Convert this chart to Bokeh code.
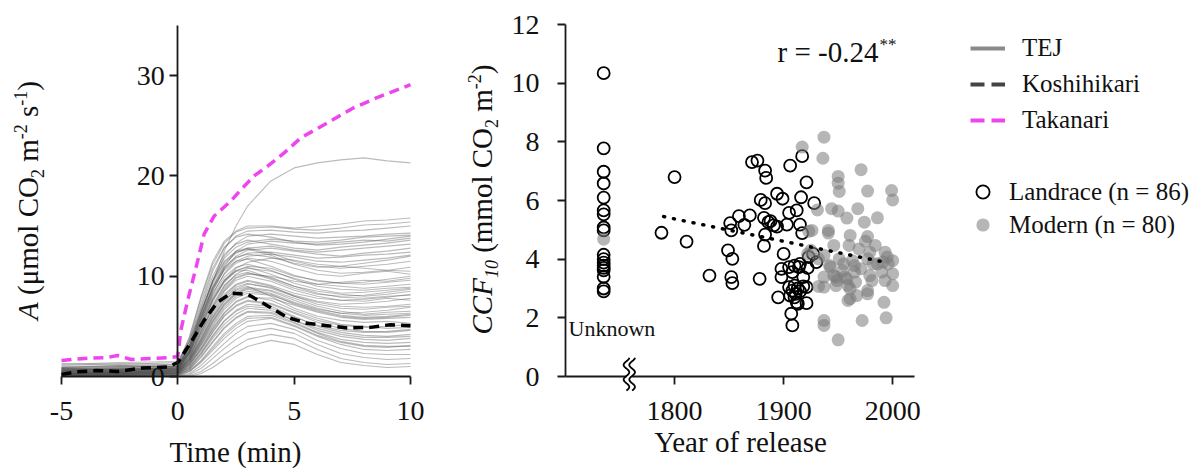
import numpy as np
from math import pi
from bokeh.plotting import figure
from bokeh.layouts import row
from bokeh.models import (Range1d, FixedTicker, Label, Legend, LegendItem,
                          CustomJSTickFormatter)
from bokeh.embed import file_html
from bokeh.resources import INLINE

FONT = "Liberation Serif"

# ---------------- Panel A data: photosynthesis induction ----------------
time_grid = [-5, -2.5, 0, 0.5, 1, 1.5, 2, 2.5, 3, 4, 5, 6, 7, 8, 9, 10]
tej_curves = [
    [1.2, 1.4, 1.5, 3.5, 6.5, 9.5, 12.5, 15.0, 17.0, 19.5, 20.8, 21.3, 21.6, 21.8, 21.5, 21.3],
    [1.0, 1.1, 1.2, 4.0, 8.0, 11.5, 13.5, 14.5, 15.0, 15.0, 14.8, 15.0, 15.2, 15.5, 15.6, 15.8],
    [0.9, 1.0, 1.0, 3.5, 7.0, 10.5, 12.8, 14.0, 14.5, 14.6, 14.4, 14.3, 14.5, 14.6, 14.8, 15.0],
    [0.8, 0.9, 1.0, 3.0, 6.2, 9.5, 12.0, 13.3, 14.0, 14.2, 14.0, 13.8, 13.9, 14.0, 14.2, 14.3],
    [0.7, 0.8, 0.9, 2.8, 5.8, 8.8, 11.0, 12.5, 13.2, 13.5, 13.3, 13.2, 13.4, 13.6, 13.5, 13.8],
    [0.6, 0.7, 0.8, 2.5, 5.5, 8.5, 10.8, 12.0, 12.6, 12.8, 12.5, 12.2, 12.0, 12.3, 12.5, 12.8],
    [0.8, 0.7, 0.9, 3.0, 6.5, 9.5, 11.5, 12.5, 12.8, 12.3, 11.5, 11.0, 10.8, 11.0, 11.2, 11.5],
    [0.5, 0.6, 0.8, 2.6, 5.6, 8.3, 10.2, 11.3, 11.8, 11.5, 10.8, 10.2, 10.0, 10.3, 10.5, 10.2],
    [0.6, 0.5, 0.7, 2.2, 4.8, 7.5, 9.5, 10.8, 11.4, 11.8, 11.6, 11.2, 11.0, 10.8, 10.6, 10.5],
    [0.4, 0.5, 0.6, 2.0, 4.5, 7.0, 9.0, 10.2, 10.8, 10.5, 9.8, 9.2, 9.0, 8.8, 9.0, 9.2],
    [0.5, 0.4, 0.7, 2.4, 5.2, 7.8, 9.6, 10.5, 10.6, 9.8, 9.0, 8.5, 8.2, 8.0, 8.2, 8.5],
    [0.3, 0.4, 0.5, 1.8, 4.2, 6.5, 8.5, 9.6, 10.0, 9.5, 8.6, 8.0, 7.6, 7.5, 7.8, 7.6],
    [0.4, 0.3, 0.6, 1.9, 4.4, 6.8, 8.6, 9.8, 10.2, 10.0, 9.5, 9.2, 9.4, 9.6, 9.5, 9.8],
    [0.2, 0.4, 0.5, 1.6, 3.8, 6.0, 7.8, 8.9, 9.3, 8.8, 8.0, 7.4, 7.0, 6.9, 7.0, 7.2],
    [0.3, 0.2, 0.4, 1.5, 3.5, 5.6, 7.3, 8.4, 8.9, 8.6, 7.8, 7.0, 6.5, 6.2, 6.4, 6.5],
    [0.2, 0.3, 0.4, 1.3, 3.2, 5.2, 6.9, 8.0, 8.5, 8.2, 7.2, 6.5, 6.0, 5.8, 5.9, 6.1],
    [0.5, 0.4, 0.6, 1.7, 3.6, 5.8, 7.5, 8.6, 9.0, 8.0, 6.8, 6.0, 5.6, 5.4, 5.5, 5.3],
    [0.3, 0.2, 0.3, 1.2, 2.9, 4.8, 6.4, 7.5, 8.0, 7.6, 6.6, 5.8, 5.2, 5.0, 4.8, 4.9],
    [0.2, 0.3, 0.3, 1.0, 2.6, 4.4, 6.0, 7.0, 7.5, 7.2, 6.3, 5.4, 4.8, 4.5, 4.4, 4.6],
    [0.1, 0.2, 0.3, 0.9, 2.4, 4.1, 5.6, 6.6, 7.2, 7.0, 6.0, 5.0, 4.4, 4.1, 4.0, 4.2],
    [0.2, 0.1, 0.2, 0.8, 2.2, 3.8, 5.2, 6.2, 6.8, 6.6, 5.6, 4.6, 4.0, 3.7, 3.6, 3.8],
    [0.1, 0.2, 0.2, 0.7, 1.9, 3.4, 4.8, 5.8, 6.4, 6.3, 5.4, 4.4, 3.7, 3.4, 3.3, 3.4],
    [0.1, 0.1, 0.2, 0.6, 1.6, 3.0, 4.3, 5.3, 6.0, 6.1, 5.3, 4.3, 3.5, 3.1, 3.0, 3.0],
    [0.0, 0.1, 0.1, 0.5, 1.4, 2.6, 3.8, 4.8, 5.5, 5.8, 5.0, 4.0, 3.2, 2.7, 2.6, 2.7],
    [0.0, 0.0, 0.1, 0.3, 1.1, 2.2, 3.3, 4.3, 5.0, 5.3, 4.7, 3.6, 2.8, 2.3, 2.2, 2.2],
    [0.0, 0.1, 0.0, 0.2, 0.8, 1.8, 2.8, 3.7, 4.4, 4.8, 4.3, 3.2, 2.3, 1.9, 1.7, 1.8],
    [0.0, 0.0, 0.0, 0.1, 0.5, 1.3, 2.2, 3.0, 3.7, 4.2, 3.8, 2.7, 1.8, 1.4, 1.2, 1.3],
    [0.0, 0.0, 0.0, 0.0, 0.3, 0.9, 1.7, 2.4, 3.0, 3.6, 3.2, 2.2, 1.4, 1.1, 0.9, 1.0],
    [0.6, 0.5, 0.7, 2.3, 5.0, 7.6, 9.4, 10.5, 11.0, 10.8, 10.0, 9.6, 9.3, 9.2, 9.4, 9.6],
    [0.7, 0.6, 0.8, 2.7, 6.0, 9.0, 11.2, 12.3, 12.8, 13.0, 12.6, 12.4, 12.6, 12.8, 13.0, 13.2],
    [0.9, 1.0, 1.1, 3.2, 6.8, 10.0, 12.2, 13.2, 13.6, 13.2, 12.8, 12.6, 12.9, 13.1, 13.3, 13.6],
    [0.7, 0.8, 0.9, 2.9, 6.0, 8.9, 10.9, 11.9, 12.2, 11.9, 11.3, 10.9, 11.0, 11.3, 11.6, 12.0],
    [0.5, 0.6, 0.7, 2.4, 5.3, 8.0, 9.9, 10.9, 11.2, 10.6, 9.7, 9.0, 8.7, 8.6, 8.8, 8.9],
    [0.4, 0.5, 0.6, 2.1, 4.7, 7.2, 9.1, 10.1, 10.4, 9.7, 8.8, 8.2, 8.0, 8.1, 8.4, 8.7],
    [0.3, 0.4, 0.5, 1.8, 4.1, 6.4, 8.2, 9.2, 9.6, 9.1, 8.3, 7.8, 7.6, 7.7, 7.9, 8.2],
    [0.3, 0.3, 0.4, 1.6, 3.7, 5.9, 7.6, 8.7, 9.2, 8.9, 8.1, 7.5, 7.2, 7.3, 7.5, 7.8],
    [0.2, 0.3, 0.4, 1.4, 3.3, 5.4, 7.1, 8.2, 8.7, 8.3, 7.4, 6.7, 6.3, 6.4, 6.6, 6.9],
    [0.2, 0.2, 0.3, 1.1, 2.8, 4.7, 6.3, 7.4, 7.9, 7.8, 7.1, 6.4, 5.9, 5.7, 5.8, 5.9],
    [0.6, 0.7, 0.8, 2.6, 5.7, 8.6, 10.7, 11.8, 12.3, 12.4, 12.1, 11.8, 11.9, 12.1, 12.2, 12.4],
    [0.8, 0.9, 1.0, 3.1, 6.4, 9.6, 11.8, 12.9, 13.4, 13.7, 13.5, 13.4, 13.6, 13.9, 14.0, 14.1],
    [1.1, 1.3, 1.2, 3.6, 7.4, 10.8, 12.9, 13.9, 14.2, 13.9, 13.4, 13.1, 13.2, 13.4, 13.7, 14.0],
    [1.3, 1.2, 1.4, 3.8, 7.8, 11.2, 13.3, 14.4, 14.8, 14.9, 14.7, 14.6, 14.8, 15.1, 15.2, 15.4],
    [0.9, 1.1, 1.0, 3.0, 6.3, 9.3, 11.4, 12.4, 12.7, 12.1, 11.2, 10.6, 10.3, 10.4, 10.6, 10.9],
    [0.8, 0.7, 0.9, 2.7, 5.9, 8.8, 10.6, 11.5, 11.7, 11.0, 10.1, 9.5, 9.3, 9.4, 9.7, 10.0],
    [0.6, 0.8, 0.7, 2.3, 5.0, 7.7, 9.6, 10.6, 10.9, 10.2, 9.3, 8.7, 8.3, 8.4, 8.6, 8.8],
    [0.7, 0.6, 0.8, 2.4, 5.4, 8.2, 10.3, 11.5, 12.0, 12.2, 11.9, 11.5, 11.4, 11.6, 11.8, 12.1],
    [0.5, 0.6, 0.6, 2.0, 4.4, 6.9, 8.8, 9.9, 10.3, 9.9, 9.0, 8.3, 7.9, 7.8, 8.0, 8.1],
    [0.4, 0.5, 0.5, 1.7, 3.9, 6.2, 8.0, 9.1, 9.5, 9.0, 8.0, 7.2, 6.8, 6.7, 6.9, 7.0],
    [0.3, 0.4, 0.4, 1.5, 3.4, 5.5, 7.2, 8.3, 8.8, 8.5, 7.6, 6.8, 6.3, 6.1, 6.2, 6.3],
    [0.4, 0.3, 0.5, 1.3, 3.1, 5.0, 6.7, 7.8, 8.3, 8.1, 7.3, 6.6, 6.1, 5.9, 6.0, 6.2],
    [0.3, 0.4, 0.3, 1.2, 2.7, 4.5, 6.1, 7.1, 7.6, 7.3, 6.4, 5.6, 5.1, 4.9, 5.0, 5.2],
    [0.2, 0.2, 0.3, 0.9, 2.3, 4.0, 5.5, 6.5, 7.0, 6.8, 5.9, 5.1, 4.6, 4.4, 4.5, 4.7],
    [0.1, 0.2, 0.2, 0.7, 2.0, 3.5, 4.9, 5.9, 6.5, 6.4, 5.6, 4.8, 4.2, 3.9, 3.9, 4.0],
    [0.1, 0.1, 0.1, 0.5, 1.5, 2.8, 4.1, 5.1, 5.8, 5.9, 5.1, 4.1, 3.4, 3.0, 2.9, 3.1],
]
kosh_time = [-5, -4.4, -3.5, -2.6, -1.5, -0.4, 0, 0.56, 1.13, 1.7, 2.28, 3.0, 3.85,
             4.7, 5.56, 6.42, 7.28, 8.28, 9.14, 10]
kosh_A = [0.2, 0.45, 0.6, 0.5, 0.85, 0.95, 1.4, 3.4, 5.6, 7.4, 8.3, 8.2, 7.06,
          5.9, 5.3, 5.07, 4.84, 4.9, 5.17, 5.07]
taka_time = [-5, -4, -3, -2.6, -2, -1, -0.3, 0, 0.13, 0.42, 0.85, 1.13, 1.56, 2.28,
             2.78, 3.28, 3.93, 4.57, 5.29, 6.55, 7.56, 8.56, 10]
taka_A = [1.6, 1.8, 1.9, 2.1, 1.7, 1.8, 1.9, 2.0, 4.6, 7.55, 11.5, 14.2, 16.0, 17.5,
          18.8, 20.0, 21.1, 22.3, 23.8, 25.45, 26.8, 27.8, 29.1]
a_xticks = [-5, 0, 5, 10]
a_yticks = [0, 10, 20, 30]

# ---------------- Panel B data: CCF10 vs year of release ----------------
unknown_landrace_ccf = [10.34, 7.78, 6.98, 6.58, 6.10, 5.66, 5.53, 5.08, 4.98, 4.15,
                        4.00, 3.88, 3.78, 3.70, 3.62, 3.40, 3.00, 2.90]
unknown_modern_ccf = [4.68]
landrace_year = [1788, 1800, 1811, 1832, 1849, 1853, 1852, 1853, 1851, 1852, 1859, 1864,
                 1869, 1871, 1876, 1878, 1883, 1884, 1879, 1883, 1882, 1888, 1886, 1883,
                 1882, 1891, 1894, 1894, 1899, 1900, 1898, 1898, 1895, 1906, 1917, 1905,
                 1912, 1903, 1915, 1917, 1916, 1921, 1928, 1905, 1910, 1915, 1908, 1918,
                 1921, 1923, 1927, 1930, 1922, 1905, 1908, 1911, 1906, 1912, 1915, 1921,
                 1907, 1908, 1918, 1913, 1914, 1910, 1910, 1913]
landrace_ccf = [4.90, 6.80, 4.60, 3.44, 4.30, 4.01, 3.39, 3.18, 5.23, 4.98, 5.47, 5.17,
                5.49, 7.31, 7.36, 3.33, 7.02, 6.77, 6.02, 5.91, 5.41, 5.30, 5.26, 4.84,
                4.45, 5.15, 5.11, 6.23, 6.06, 4.18, 3.67, 3.39, 2.70, 7.19, 7.51, 5.58,
                5.66, 5.18, 5.18, 4.89, 6.11, 6.62, 5.91, 3.73, 3.78, 3.84, 3.56, 3.39,
                3.05, 4.07, 4.18, 3.90, 3.70, 3.05, 2.93, 2.82, 2.76, 2.53, 2.90, 2.50,
                2.14, 1.74, 3.07, 3.00, 3.73, 3.10, 2.70, 2.48]
modern_year = [1937, 1917, 1936, 1971, 1950, 1950, 1951, 1977, 1999, 2000, 1931, 1944,
               1950, 1958, 1968, 1974, 1986, 1926, 1941, 1961, 1977,
               1925, 1946, 1960, 1969, 1984, 1993, 2000, 1937, 1951, 1963, 1977, 1986,
               1996, 1943, 1954, 1965, 1971, 1990, 2000, 1937, 1949, 1958, 1966, 1981,
               1993, 2000, 1937, 1948, 1961, 1977, 1961, 1967, 1992, 1937, 1937, 1972,
               1994, 1950, 1941, 1922, 1948,
               1923, 1975, 1979, 1995, 1932, 1942, 1955, 1965, 1982, 1991, 1946, 1956,
               1979, 1932, 1959, 1959, 1977]
modern_ccf = [8.16, 7.82, 7.44, 7.05, 6.82, 6.59, 6.31, 6.32, 6.34, 6.02, 5.68, 5.72,
              5.64, 5.40, 5.72, 5.26, 5.41, 4.98, 4.89, 4.81, 4.77,
              4.30, 4.47, 4.47, 4.35, 4.47, 4.24, 3.95, 4.13, 4.01, 3.95, 4.01, 3.84,
              3.84, 3.73, 3.61, 3.56, 3.67, 3.56, 3.50, 3.39, 3.27, 3.33, 3.22, 3.27,
              3.27, 3.10, 3.05, 3.10, 2.99, 2.93, 2.65, 2.76, 2.53, 1.91, 1.74, 1.91,
              2.00, 1.25, 4.98, 4.18, 3.39,
              4.95, 4.61, 4.24, 4.07, 4.01, 3.78, 3.84, 3.78, 3.84, 3.90, 3.44, 3.39,
              3.44, 3.07, 3.10, 2.59, 2.82]
trend_year = [1790, 1995]
trend_ccf = [5.45, 3.88]
b_xticks = [1800, 1900, 2000]
b_yticks = [0, 2, 4, 6, 8, 10, 12]
unknown_x = 1735       # horizontal slot of the "Unknown" column
break_x = 1758.5       # axis-break position

# ---------------- pixel geometry (layout only) ----------------
A_W, A_H = 440, 468
A_L, A_R, A_T, A_B = 61, 410, 25, 376      # pixels of x=-5, x=10, y=35, y=0
B_W, B_H = 764, 468
B_L, B_R, B_T, B_B = 125, 474, 24, 376     # pixels of x=1700, x=2020, y=12, y=0 (local)
BL = 0.34   # baseline correction (fraction of font size)

def full_ranges(x0, x1, y0, y1, L, R, T, B, W, H):
    xp = (R - L) / (x1 - x0)
    yp = (B - T) / (y1 - y0)
    return (Range1d(x0 - L / xp, x1 + (W - R) / xp),
            Range1d(y0 - (H - B) / yp, y1 + T / yp))

AX = "#1a1a1a"
hyphen_fmt = CustomJSTickFormatter(code="return tick.toString();")

def style_axes(p, xstand, ystand):
    for ax in p.xaxis + p.yaxis:
        ax.axis_line_color = AX
        ax.axis_line_width = 1.8
        ax.major_tick_line_color = AX
        ax.major_tick_line_width = 1.8
        ax.major_tick_out = 8
        ax.major_tick_in = 0
        ax.minor_tick_line_color = None
        ax.major_label_text_font = FONT
        ax.major_label_text_font_size = "28px"
        ax.major_label_text_color = "#111111"
        ax.formatter = hyphen_fmt
    for ax in p.xaxis:
        ax.major_label_standoff = xstand
    for ax in p.yaxis:
        ax.major_label_standoff = ystand
    p.grid.visible = False
    p.outline_line_color = None


def htext(p, ax0, ay0, osx, osy, sx, sy, text, size, align="left"):
    """Horizontal text with its alphabetic baseline at screen (sx, sy)."""
    p.add_layout(Label(x=ax0, y=ay0, x_offset=sx - osx, y_offset=osy - sy + BL * size,
                       text=text, text_font=FONT, text_font_size=f"{size}px",
                       text_align=align, text_baseline="alphabetic", text_color="#111111"))


REG = {' ': 250, '(': 333, ')': 333, 'μ': 500, 'm': 778, 'o': 500, 'l': 278, 'C': 667,
       'O': 722, '2': 500, '-': 333, 's': 389, '1': 500, '0': 500}
ITA = {'A': 611, 'C': 667, 'F': 611, '1': 500, '0': 500}

def tw(s, size, italic):
    tab = ITA if italic else REG
    return sum(tab.get(c, 500) for c in s) * size / 1000.0

def vertical_title(p, ax0, ay0, osx, osy, base_sx, center_sy, pieces):
    total = sum(tw(t, s, it) for t, s, it, _ in pieces)
    cur = center_sy + total / 2.0
    for txt, size, italic, shift in pieces:
        lead = len(txt) - len(txt.lstrip(' '))
        cur -= lead * 250 * size / 1000.0
        core = txt.strip(' ')
        p.add_layout(Label(x=ax0, y=ay0, x_offset=base_sx + shift - osx - BL * size,
                           y_offset=osy - cur,
                           text=core, angle=pi / 2, text_font=FONT,
                           text_font_size=f"{size}px",
                           text_font_style="italic" if italic else "normal",
                           text_align="left", text_baseline="alphabetic",
                           text_color="#111111"))
        cur -= tw(core, size, italic)


# ---------------- Panel A ----------------
xr1, yr1 = full_ranges(-5, 10, 0, 35, A_L, A_R, A_T, A_B, A_W, A_H)
p1 = figure(width=A_W, height=A_H, x_range=xr1, y_range=yr1,
            output_backend="svg", toolbar_location=None, min_border=0)
p1.yaxis.fixed_location = 0
p1.xaxis.fixed_location = 0
p1.xaxis.bounds = (-5, 10)
p1.yaxis.bounds = (0, 35)
p1.xaxis.ticker = FixedTicker(ticks=a_xticks)
p1.yaxis.ticker = FixedTicker(ticks=a_yticks)
style_axes(p1, 17, 5)

p1.multi_line(xs=[time_grid] * len(tej_curves), ys=tej_curves,
              line_color="#4d4d4d", line_alpha=0.38, line_width=1.1)
p1.line(kosh_time, kosh_A, line_color="#000000", line_width=3.5, line_dash="10 6")
p1.line(taka_time, taka_A, line_color="#ef45ef", line_width=3.5, line_dash="10 6")

htext(p1, -5, 0, A_L, A_B, 235, 461, "Time (min)", 29, "center")
vertical_title(p1, -5, 0, A_L, A_B, 37, 200, [
    ("A", 29, True, 0), (" (μmol CO", 29, False, 0), ("2", 18, False, 6),
    (" m", 29, False, 0), ("-2", 18, False, -11), (" s", 29, False, 0),
    ("-1", 18, False, -11), (")", 29, False, 0)])

# ---------------- Panel B ----------------
xr2, yr2 = full_ranges(1700, 2020, 0, 12, B_L, B_R, B_T, B_B, B_W, B_H)
p2 = figure(width=B_W, height=B_H, x_range=xr2, y_range=yr2,
            output_backend="svg", toolbar_location=None, min_border=0)
p2.xaxis.fixed_location = 0
p2.yaxis.fixed_location = 1700
p2.xaxis.bounds = (1700, 2020)
p2.yaxis.bounds = (0, 12)
p2.xaxis.ticker = FixedTicker(ticks=b_xticks)
p2.yaxis.ticker = FixedTicker(ticks=b_yticks)
style_axes(p2, 17, 18)

r_land = p2.scatter([unknown_x] * len(unknown_landrace_ccf), unknown_landrace_ccf, size=12,
                    fill_color=None, line_color="#000000", line_width=1.8)
p2.scatter(landrace_year, landrace_ccf, size=12, fill_color=None,
           line_color="#000000", line_width=1.8)
r_mod = p2.scatter(modern_year, modern_ccf, size=13,
                   fill_color="#7a7a7a", fill_alpha=0.55, line_color=None)
p2.scatter([unknown_x] * len(unknown_modern_ccf), unknown_modern_ccf, size=13,
           fill_color="#7a7a7a", fill_alpha=0.55, line_color=None)
p2.line(trend_year, trend_ccf, line_color="#000000", line_width=3.5,
        line_dash="1 9", line_cap="round")

# axis break symbol
bx = break_x
p2.quad(left=[bx - 2.6], right=[bx + 2.6], bottom=[-0.1], top=[0.1],
        fill_color="white", line_color=None, level="overlay")
wy = np.linspace(-0.48, 0.64, 60)
for dx in (-2.6, 2.6):
    p2.line(bx + dx + 2.6 * np.sin(2 * pi * (wy + 0.48) / 0.5), wy,
            line_color="#000000", line_width=1.8, level="overlay")

G = 440  # global x of panel B's left edge
htext(p2, 1700, 0, B_L, B_B, 740 - G, 451, "Year of release", 29, "center")
htext(p2, 1700, 0, B_L, B_B, 568 - G, 335, "Unknown", 22)
htext(p2, 1700, 0, B_L, B_B, 777 - G, 61, "r = -0.24", 29)
htext(p2, 1700, 0, B_L, B_B, 879 - G, 50, "**", 17)
vertical_title(p2, 1700, 0, B_L, B_B, 491 - G, 199, [
    ("CCF", 29, True, 0), ("10", 18, True, 6), (" (mmol CO", 29, False, 0),
    ("2", 18, False, 6), (" m", 29, False, 0), ("-2", 18, False, -11), (")", 29, False, 0)])

# legends (line samples come from hidden, data-less renderers)
nan2 = [np.nan, np.nan]
r_tej = p2.line(x=nan2, y=nan2, line_color="#8a8a8a", line_width=4)
r_kosh = p2.line(x=nan2, y=nan2, line_color="#444444", line_width=4, line_dash="14 7")
r_taka = p2.line(x=nan2, y=nan2, line_color="#ef45ef", line_width=4, line_dash="14 7")

def make_legend(items, loc, gw, gh, spacing, standoff):
    return Legend(items=items, location=loc, glyph_width=gw, glyph_height=gh,
                  label_height=gh, spacing=spacing, label_standoff=standoff,
                  padding=0, margin=0, border_line_color=None, background_fill_alpha=0,
                  label_text_font=FONT, label_text_font_size="25px",
                  label_text_color="#111111")

leg1 = make_legend([LegendItem(label="TEJ", renderers=[r_tej]),
                    LegendItem(label="Koshihikari", renderers=[r_kosh]),
                    LegendItem(label="Takanari", renderers=[r_taka])],
                   (970 - G, B_H - 134), 35, 24, 8, 17)
leg2 = make_legend([LegendItem(label="Landrace (n = 86)", renderers=[r_land]),
                    LegendItem(label="Modern (n = 80)", renderers=[r_mod])],
                   (526, B_H - 241), 33, 33, 0, 10)
p2.add_layout(leg1)
p2.add_layout(leg2)

layout = row(p1, p2)
open("out.html", "w").write(file_html(layout, INLINE))
